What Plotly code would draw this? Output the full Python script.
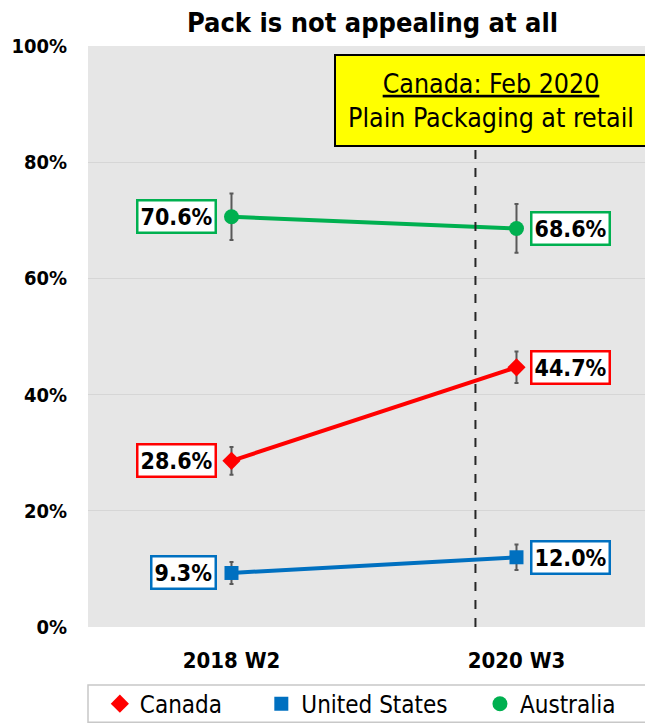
import plotly.graph_objects as go

waves = ["2018 W2", "2020 W3"]
xpos = [0, 1]
canada = [28.6, 44.7]
canada_err = [2.4, 2.7]
us = [9.3, 12.0]
us_err = [1.9, 2.2]
australia = [70.6, 68.6]
australia_err = [4.0, 4.2]
y_ticks = [0, 20, 40, 60, 80, 100]
y_tick_labels = ["0%", "20%", "40%", "60%", "80%", "100%"]

FONT = "DejaVu Sans Condensed, DejaVu Sans, sans-serif"
NB = "\u00a0"
series = [
    ("Canada", canada, canada_err, "#FF0000", "diamond", 14, 5),
    ("United States", us, us_err, "#0070C0", "square", 14, 4),
    ("Australia", australia, australia_err, "#00B050", "circle", 15, 0),
]

fig = go.Figure()
for name, vals, err, col, sym, sz, pad in series:
    fig.add_trace(go.Scatter(
        x=xpos, y=vals, mode="lines", showlegend=False, hoverinfo="skip",
        line=dict(color=col, width=4),
    ))
for name, vals, err, col, sym, sz, pad in series:
    fig.add_trace(go.Scatter(
        x=xpos, y=vals, name=name + NB * pad, mode="markers",
        marker=dict(color=col, symbol=sym, size=sz),
        error_y=dict(type="data", array=err, color="#595959", thickness=2, width=2),
    ))

annotations = []
for name, vals, err, col, sym, sz, pad in series:
    for i, v in enumerate(vals):
        annotations.append(dict(
            x=xpos[i], y=v, xref="x", yref="y", showarrow=False,
            text=f"<b>{v:.1f}%</b>",
            xanchor="right" if i == 0 else "left",
            xshift=-14 if i == 0 else 14,
            font=dict(family=FONT, size=23, color="black"),
            bgcolor="white", bordercolor=col, borderwidth=2.5, borderpad=2,
        ))

annotations.append(dict(
    x=0.912, y=90.7, xref="x", yref="y", showarrow=False,
    text="<u>Canada: Feb 2020</u><br>Plain Packaging at retail",
    font=dict(family=FONT, size=26.5, color="black"),
    bgcolor="#FFFF00", bordercolor="black", borderwidth=2,
    width=308, height=87, align="center",
))
annotations.append(dict(
    x=0.504, y=1.0, xref="paper", yref="paper", yanchor="middle", yshift=24,
    showarrow=False, text="<b>Pack is not appealing at all</b>",
    font=dict(family=FONT, size=27, color="black"),
))

fig.update_layout(
    width=645, height=717,
    margin=dict(l=80, r=0, t=38, b=98, autoexpand=False),
    paper_bgcolor="white", plot_bgcolor="#E6E6E6",
    showlegend=True,
    legend=dict(
        orientation="h", x=0.021, xanchor="left", y=-0.094, yanchor="top",
        borderwidth=0, bgcolor="rgba(0,0,0,0)",
        font=dict(family=FONT, size=24, color="black"),
        itemsizing="trace",
    ),
    annotations=annotations,
    shapes=[
        dict(type="line", xref="x", yref="y", x0=0.856, x1=0.856, y0=0, y1=82.8,
             line=dict(color="#262626", width=2, dash="dash"), layer="above"),
        dict(type="rect", xref="paper", yref="paper", x0=0, x1=1.05, y0=-0.1, y1=-0.1638,
             line=dict(color="#C8C8C8", width=1.5), fillcolor="rgba(0,0,0,0)", layer="below"),
    ],
)
fig.update_xaxes(
    range=[-0.5035, 1.479], tickvals=xpos, ticktext=[f"<b>{w}</b>" for w in waves],
    tickfont=dict(family=FONT, size=22, color="black"), showgrid=False, zeroline=False,
    ticks="", ticklabelstandoff=18, automargin=False,
)
fig.update_yaxes(
    range=[0, 100], tickvals=y_ticks, ticktext=[f"<b>{t}</b>" for t in y_tick_labels],
    tickfont=dict(family=FONT, size=20, color="black"), gridcolor="#D6D6D6", gridwidth=1,
    zeroline=False, ticks="", ticklabelstandoff=20, automargin=False,
)
fig.write_html("out.html")
